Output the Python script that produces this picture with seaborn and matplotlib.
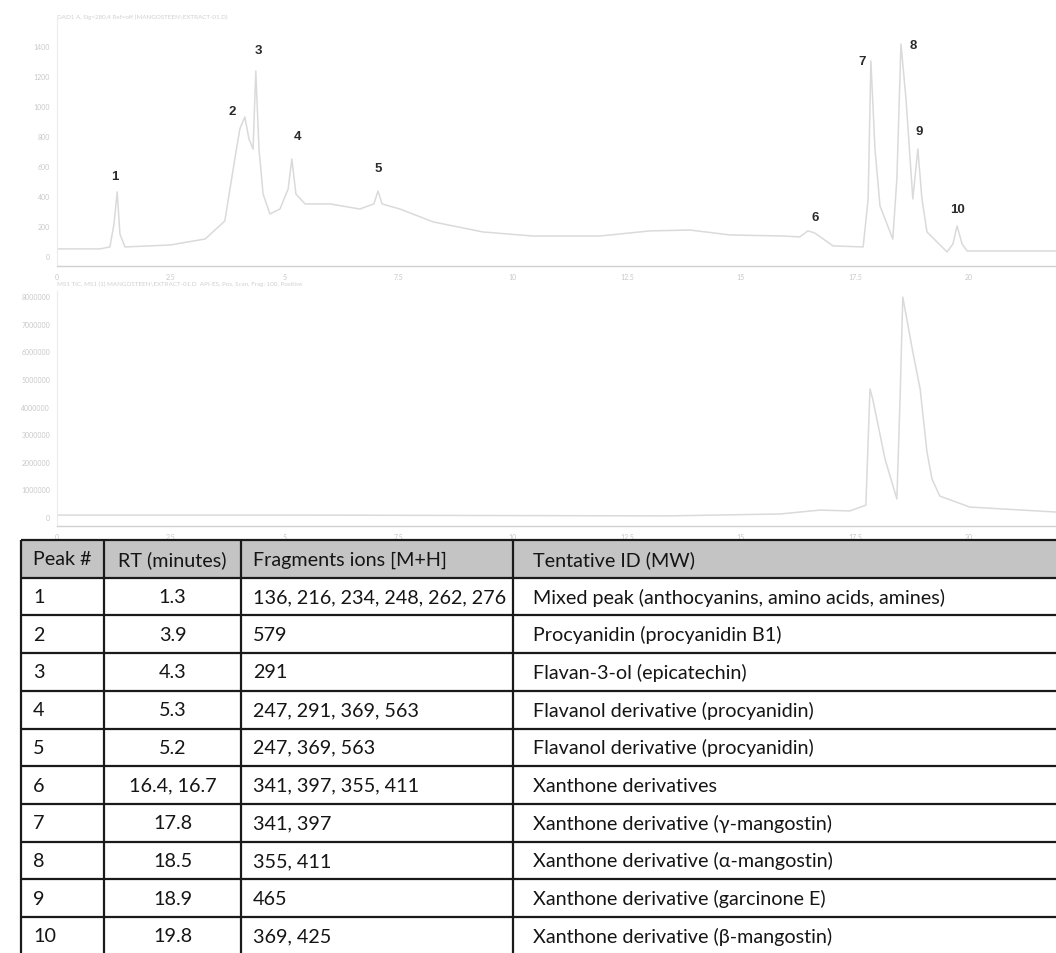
import numpy as np
import pandas as pd
import matplotlib
matplotlib.use("Agg")
import matplotlib.pyplot as plt
import seaborn as sns

# ---------------- chromatogram data ----------------
# UV trace (time in min, absorbance in mAU)
uv_time = [0.00, 0.94, 1.16, 1.25, 1.32, 1.38, 1.49, 2.48, 3.25, 3.68, 3.90, 4.01,
           4.12, 4.21, 4.30, 4.36, 4.43, 4.52, 4.67, 4.89, 5.07, 5.15, 5.24, 5.44,
           5.99, 6.64, 6.95, 7.04, 7.13, 7.52, 8.25, 9.34, 10.44, 11.91, 13.00,
           13.88, 14.76, 15.92, 16.29, 16.47, 16.62, 17.02, 17.68, 17.79, 17.85,
           17.94, 18.05, 18.33, 18.42, 18.51, 18.62, 18.77, 18.88, 18.97, 19.08,
           19.52, 19.65, 19.74, 19.85, 19.96, 21.91]
uv_signal = [47, 47, 60, 213, 427, 147, 60, 73, 113, 233, 647, 847,
             927, 780, 713, 1233, 713, 413, 280, 313, 447, 647, 413, 347,
             347, 313, 347, 433, 347, 313, 227, 160, 133, 133, 167,
             173, 140, 133, 127, 167, 153, 67, 60, 380, 1300,
             713, 333, 113, 513, 1413, 1047, 380, 713, 380, 160,
             27, 80, 200, 80, 33, 33]

# Total ion current trace (time in min, counts)
tic_time = [0.00, 5.33, 13.38, 15.86, 16.73, 17.39, 17.74, 17.83, 17.89, 18.16,
            18.42, 18.49, 18.55, 18.77, 18.93, 19.08, 19.19, 19.36, 20.02, 21.91]
tic_signal = [0.07e6, 0.07e6, 0.04e6, 0.11e6, 0.25e6, 0.22e6, 0.43e6, 4.64e6,
              4.28e6, 2.10e6, 0.65e6, 4.28e6, 7.97e6, 5.98e6, 4.64e6, 2.36e6,
              1.38e6, 0.76e6, 0.36e6, 0.18e6]

# Numbered peaks on the UV trace (apex time, apex height)
peak_numbers = ["1", "2", "3", "4", "5", "6", "7", "8", "9", "10"]
peak_apex_time = [1.32, 4.12, 4.36, 5.15, 7.04, 16.47, 17.85, 18.51, 18.88, 19.74]
peak_apex_height = [427, 927, 1233, 647, 433, 167, 1300, 1413, 713, 200]

# ---------------- table data ----------------
table_header = ["Peak #", "RT (minutes)", "Fragments ions [M+H]", "Tentative ID (MW)"]
peak_ids = ["1", "2", "3", "4", "5", "6", "7", "8", "9", "10"]
retention_times = ["1.3", "3.9", "4.3", "5.3", "5.2", "16.4, 16.7", "17.8", "18.5", "18.9", "19.8"]
fragment_ions = ["136, 216, 234, 248, 262, 276", "579", "291", "247, 291, 369, 563",
                 "247, 369, 563", "341, 397, 355, 411", "341, 397", "355, 411", "465",
                 "369, 425"]
tentative_ids = ["Mixed peak (anthocyanins, amino acids, amines)",
                 "Procyanidin (procyanidin B1)",
                 "Flavan-3-ol (epicatechin)",
                 "Flavanol derivative (procyanidin)",
                 "Flavanol derivative (procyanidin)",
                 "Xanthone derivatives",
                 "Xanthone derivative (\u03b3-mangostin)",
                 "Xanthone derivative (\u03b1-mangostin)",
                 "Xanthone derivative (garcinone E)",
                 "Xanthone derivative (\u03b2-mangostin)"]

x_ticks = [0, 2.5, 5, 7.5, 10, 12.5, 15, 17.5, 20]
x_ticklabels = ["0", "2.5", "5", "7.5", "10", "12.5", "15", "17.5", "20"]
uv_yticks = [0, 200, 400, 600, 800, 1000, 1200, 1400]
tic_yticks = [0, 1e6, 2e6, 3e6, 4e6, 5e6, 6e6, 7e6, 8e6]

# ---------------- figure ----------------
sns.set_theme(style="white")
plt.rcParams["font.family"] = ["Lato", "DejaVu Sans"]

W, H = 1056, 954
fig = plt.figure(figsize=(W / 100, H / 100), dpi=100)
fig.patch.set_facecolor("white")


def px_axes(x0, y0, x1, y1):
    """Axes placed by pixel box (top-left origin)."""
    return fig.add_axes([x0 / W, 1 - y1 / H, (x1 - x0) / W, (y1 - y0) / H])


trace_color = "#dadada"
faint = "#d0d0d0"


def style_chrom(ax, yticks, ylabels):
    ax.set_facecolor("none")
    for s in ["top", "right"]:
        ax.spines[s].set_visible(False)
    ax.spines["left"].set_color("#ececec")
    ax.spines["bottom"].set_color(faint)
    ax.spines["left"].set_linewidth(0.8)
    ax.spines["bottom"].set_linewidth(1.0)
    ax.set_xticks(x_ticks)
    ax.set_xticklabels(x_ticklabels)
    ax.set_yticks(yticks)
    ax.set_yticklabels(ylabels)
    ax.tick_params(axis="both", colors="#e0e0e0", labelcolor="#c8c8c8",
                   labelsize=5, length=3, width=0.6, direction="out", pad=2)
    ax.set_xlabel("")
    ax.set_ylabel("")
    ax.grid(False)


# Top: UV chromatogram
ax1 = px_axes(57, 20, 1056, 267)
uv_df = pd.DataFrame({"time": uv_time, "signal": uv_signal})
sns.lineplot(data=uv_df, x="time", y="signal", ax=ax1, color=trace_color,
             linewidth=1.1, sort=False, estimator=None)
ax1.set_xlim(0, 21.91)
ax1.set_ylim(-67, 1580)
style_chrom(ax1, uv_yticks, [str(v) for v in uv_yticks])
ax1.text(0.0, 1.0, "DAD1 A, Sig=280,4 Ref=off (MANGOSTEEN\\EXTRACT-01.D)",
         transform=ax1.transAxes, fontsize=4.5, color=faint, va="bottom", ha="left")

label_offsets = [(-2, 7), (-9, 0), (2, 11), (4, 12), (0, 12),
                 (5, 6), (-6, -4), (9, -5), (1, 9), (0, 8)]
for num, t, h, (dx, dy) in zip(peak_numbers, peak_apex_time, peak_apex_height, label_offsets):
    ax1.annotate(num, (t, h), xytext=(dx, dy), textcoords="offset points",
                 ha="center", va="bottom", fontsize=9.5, fontweight="bold",
                 color="#2a2a2a", family=["Liberation Sans", "DejaVu Sans"])

# Bottom: TIC chromatogram
ax2 = px_axes(57, 292, 1056, 527)
tic_df = pd.DataFrame({"time": tic_time, "signal": tic_signal})
sns.lineplot(data=tic_df, x="time", y="signal", ax=ax2, color=trace_color,
             linewidth=1.1, sort=False, estimator=None)
ax2.set_xlim(0, 21.91)
ax2.set_ylim(-0.326e6, 8.19e6)
style_chrom(ax2, tic_yticks, [f"{int(v)}" for v in tic_yticks])
ax2.text(0.0, 1.02, "MS1 TIC, MS1 (1) MANGOSTEEN\\EXTRACT-01.D  API-ES, Pos, Scan, Frag: 100, Positive",
         transform=ax2.transAxes, fontsize=4.5, color=faint, va="bottom", ha="left")

# ---------------- table ----------------
axt = fig.add_axes([0, 0, 1, 1])
axt.set_xlim(0, W)
axt.set_ylim(H, 0)
axt.axis("off")
axt.patch.set_visible(False)

tab_top = 541
row_h = 37.7
col_x = [21, 104, 241, 513, W + 5]
n_rows = len(peak_ids) + 1

axt.add_patch(plt.Rectangle((col_x[0], tab_top), col_x[-1] - col_x[0], row_h,
                            facecolor="#c4c4c4", edgecolor="none", zorder=1))
for k in range(n_rows + 1):
    y = tab_top + k * row_h
    axt.plot([col_x[0], col_x[-1]], [y, y], color="#1a1a1a", lw=1.6, zorder=3,
             solid_capstyle="butt")
for x in col_x[:-1]:
    axt.plot([x, x], [tab_top, tab_top + n_rows * row_h], color="#1a1a1a", lw=1.6,
             zorder=3, solid_capstyle="butt")

txt_kw = dict(fontsize=14.2, color="#151515", va="center", zorder=4)
col_text_x = [33, (col_x[1] + col_x[2]) / 2, 253, 533]
col_align = ["left", "center", "left", "left"]

yc = tab_top + row_h / 2
for j, head in enumerate(table_header):
    axt.text(col_text_x[j], yc, head, ha=col_align[j], **txt_kw)

for i in range(len(peak_ids)):
    yc = tab_top + (i + 1.5) * row_h
    row = [peak_ids[i], retention_times[i], fragment_ions[i], tentative_ids[i]]
    for j, cell in enumerate(row):
        axt.text(col_text_x[j], yc, cell, ha=col_align[j], **txt_kw)

fig.savefig("out.png", dpi=100, facecolor="white")
